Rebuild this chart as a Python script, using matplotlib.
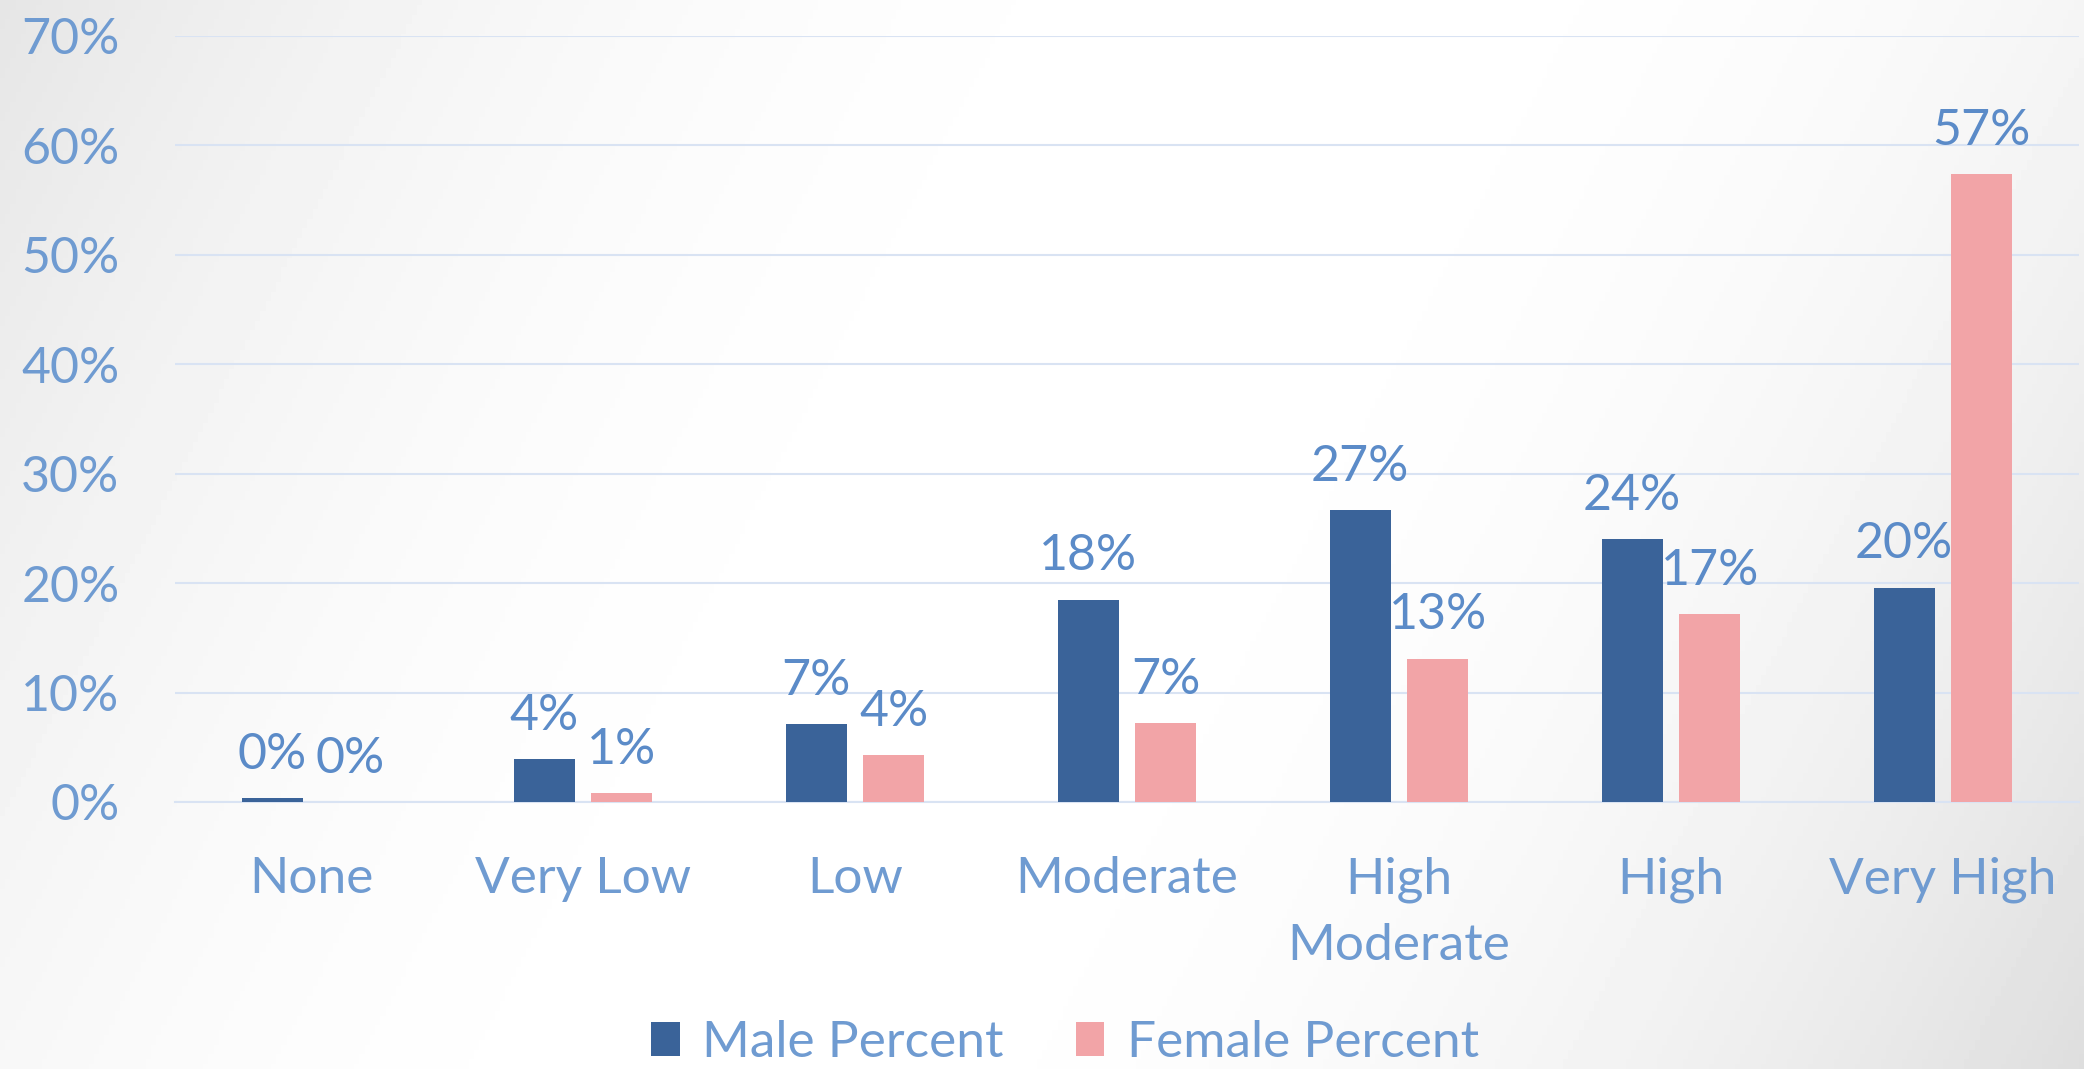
import numpy as np
import matplotlib
matplotlib.use("Agg")
import matplotlib.pyplot as plt
from matplotlib.patches import Patch
from matplotlib.ticker import PercentFormatter

# ---------------- Data ---------------- #
categories = ["None", "Very Low", "Low", "Moderate", "High\nModerate", "High", "Very High"]
male_pct = [0.35, 3.9, 7.1, 18.5, 26.7, 24.0, 19.6]
female_pct = [0.0, 0.8, 4.3, 7.2, 13.1, 17.2, 57.4]
male_labels = ["0%", "4%", "7%", "18%", "27%", "24%", "20%"]
female_labels = ["0%", "1%", "4%", "7%", "13%", "17%", "57%"]
series_names = ["Male Percent", "Female Percent"]

# ---------------- Style ---------------- #
MALE_COLOR = "#3A6399"
FEMALE_COLOR = "#F2A4A7"
TICK_COLOR = "#6F9BD1"
LABEL_COLOR = "#5B8BC8"
GRID_COLOR = "#D9E3F3"
FONT = ["Lato", "DejaVu Sans"]

W, H = 2084, 1069
fig = plt.figure(figsize=(W / 100, H / 100), dpi=100)

# background gradient: grey at top-left and bottom-right, white across the middle
bg = fig.add_axes([0, 0, 1, 1], zorder=-10)
xx, yy = np.meshgrid(np.linspace(0, 1, 400), np.linspace(0, 1, 220))
t = (xx * W * W + yy * H * H) / (W * W + H * H)
d = np.abs(t - 0.5) * 2
amp = np.where(t < 0.5, 0.1, 0.13)
gray = 1 - amp * d ** 2.2
bg.imshow(gray, cmap="gray", vmin=0, vmax=1, extent=[0, 1, 0, 1], aspect="auto", origin="upper")
bg.axis("off")

ax = fig.add_axes([175 / W, 1 - 802 / H, (2079 - 175) / W, (802 - 36) / H])
ax.set_facecolor("none")

x = np.arange(len(categories))
bw = 0.224
off = 0.1425
ax.bar(x - off, male_pct, bw, color=MALE_COLOR, zorder=3)
ax.bar(x + off, female_pct, bw, color=FEMALE_COLOR, zorder=3)

for xi, v, lab in zip(x - off, male_pct, male_labels):
    ax.annotate(lab, (xi, v), xytext=(0, 21), textcoords="offset points", ha="center",
                va="baseline", fontsize=36, color=LABEL_COLOR, family=FONT)
for xi, v, lab in zip(x + off, female_pct, female_labels):
    ax.annotate(lab, (xi, v), xytext=(0, 21), textcoords="offset points", ha="center",
                va="baseline", fontsize=36, color=LABEL_COLOR, family=FONT)

ax.set_xlim(-0.5, len(categories) - 0.5)
ax.set_ylim(0, 70)
ax.set_yticks(np.arange(0, 71, 10))
ax.yaxis.set_major_formatter(PercentFormatter(decimals=0))
ax.set_xticks(x)
ax.set_xticklabels(categories, linespacing=1.55)
ax.grid(axis="y", color=GRID_COLOR, linewidth=1.5, zorder=0)
ax.set_axisbelow(True)
for s in ["top", "right", "left"]:
    ax.spines[s].set_visible(False)
ax.spines["bottom"].set_color(GRID_COLOR)
ax.spines["bottom"].set_linewidth(1.5)
ax.tick_params(axis="y", length=0, pad=40, labelsize=36, labelcolor=TICK_COLOR)
ax.tick_params(axis="x", length=0, pad=39, labelsize=37, labelcolor=TICK_COLOR)
for lab in ax.get_xticklabels() + ax.get_yticklabels():
    lab.set_family(FONT)

handles = [Patch(facecolor=MALE_COLOR), Patch(facecolor=FEMALE_COLOR)]
leg = fig.legend(handles, series_names, loc="center", bbox_to_anchor=(1065 / W, 1 - 1043 / H),
                 ncol=2, frameon=False, handlelength=0.55, handleheight=0.65, handletextpad=0.44,
                 columnspacing=1.4, prop={"family": FONT, "size": 37}, borderpad=0)
for txt in leg.get_texts():
    txt.set_color(TICK_COLOR)

fig.savefig("out.png", dpi=100)
